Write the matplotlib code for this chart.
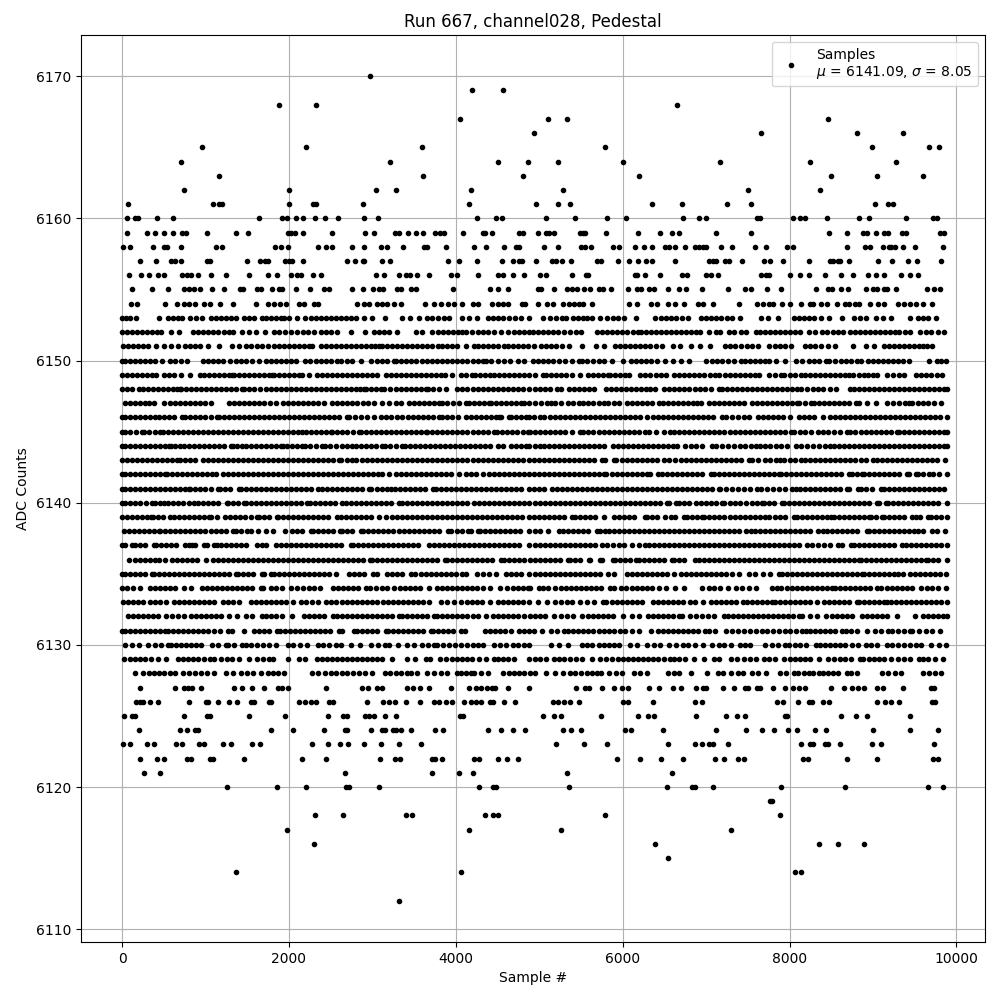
import matplotlib
matplotlib.use("Agg")
import matplotlib.pyplot as plt

x_6170 = [2966]
x_6169 = [4188, 4571]
x_6168 = [1876, 2319, 6645]
x_6167 = [4056, 5100, 5327, 8465]
x_6166 = [4932, 7662, 8812, 9363]
x_6165 = [954, 2200, 3589, 5782, 8992, 9674, 9786]
x_6164 = [703, 3206, 4511, 4866, 5219, 5998, 7171, 8249, 9279]
x_6163 = [1158, 3601, 4810, 6201, 8501, 9052, 9603]
x_6162 = [739, 1996, 3038, 3289, 4176, 5279, 7507, 8369]
x_6161 = [68, 1086, 1158, 1194, 1996, 2283, 2319, 2882, 4152, 4956, 5219, 5363, 6357, 6716, 7255, 7543, 9028, 9183, 9243]
x_6160 = [56, 152, 188, 415, 607, 1637, 1920, 1972, 2080, 2164, 2307, 2427, 2583, 2894, 3062, 4259, 4487, 4559, 5076, 5423, 5806, 6034, 6728, 6920, 7004, 7615, 7650, 8046, 8130, 8190, 8453, 8836, 8956, 9399, 9722, 9770]
x_6159 = [56, 295, 391, 499, 607, 715, 762, 1014, 1361, 1505, 1984, 2020, 2068, 2164, 2511, 2906, 3014, 3277, 3325, 3421, 3517, 3601, 3745, 3805, 3853, 4092, 4320, 4355, 4439, 4762, 4810, 4980, 5076, 5112, 5171, 5483, 5519, 5543, 5794, 6189, 6453, 6585, 6680, 7123, 7543, 8477, 8692, 8884, 8932, 9040, 9135, 9183, 9351, 9399, 9806, 9854]
x_6158 = [8, 92, 367, 499, 535, 703, 1122, 1194, 1828, 1900, 1984, 2343, 2439, 2511, 2750, 2894, 3098, 3170, 3373, 3613, 3649, 3888, 4212, 4356, 4583, 4727, 4763, 5052, 5219, 5495, 5543, 5615, 5878, 5950, 6153, 6261, 6357, 6501, 6549, 6621, 6752, 6872, 6920, 6968, 7004, 7183, 7315, 7591, 7722, 7974, 8046, 8692, 8908, 8968, 9124, 9195, 9219, 9267, 9363, 9507, 9842]
x_6157 = [212, 403, 583, 631, 703, 1014, 1050, 1493, 1649, 1709, 1745, 1948, 1996, 2032, 2164, 2691, 2786, 2882, 2894, 3110, 3206, 3912, 4044, 4248, 4559, 4691, 4763, 4798, 4956, 5147, 5195, 5267, 5375, 5698, 5734, 5938, 6070, 6189, 6285, 6357, 6632, 7040, 7088, 7123, 7231, 7279, 7435, 7698, 7770, 7926, 8237, 8489, 8525, 8585, 8609, 8716, 9064, 9231, 9423, 9531, 9818]
x_6156 = [80, 224, 327, 427, 499, 715, 774, 822, 906, 1062, 1241, 1517, 1745, 1852, 2020, 2092, 2140, 2283, 2379, 3038, 3134, 3325, 3397, 3445, 3529, 3673, 3948, 4020, 4271, 4511, 4571, 4691, 4822, 5004, 5076, 5387, 5555, 5579, 6153, 6177, 6273, 6453, 6716, 6776, 7004, 7064, 7147, 7662, 7722, 7758, 8000, 8130, 8237, 8429, 8621, 8764, 8944, 9040, 9135, 9339, 9447, 9543]
x_6155 = [116, 355, 547, 739, 798, 858, 930, 1074, 1218, 1409, 1445, 1613, 1661, 1792, 1876, 1912, 2080, 2248, 2415, 2475, 2750, 2882, 3002, 3074, 3122, 3301, 3349, 3457, 3517, 3972, 4415, 4511, 4631, 4980, 5016, 5171, 5327, 5387, 5447, 5531, 5603, 5710, 5758, 5854, 6058, 6177, 6225, 6321, 6381, 6537, 6680, 6764, 6956, 7267, 7471, 7543, 7734, 7902, 8321, 8465, 8513, 8621, 8704, 8920, 9004, 9052, 9135, 9171, 9279, 9651, 9734, 9806]
x_6154 = [104, 176, 511, 655, 739, 798, 870, 978, 1050, 1170, 1325, 1601, 1745, 1816, 1896, 1960, 2116, 2176, 2295, 2343, 2810, 2894, 2954, 3050, 3110, 3170, 3265, 3349, 3633, 3733, 3817, 3912, 3984, 4080, 4200, 4271, 4439, 4511, 4571, 4631, 4798, 4834, 4980, 5088, 5159, 5279, 5351, 5411, 5471, 5519, 5627, 6070, 6177, 6345, 6417, 6537, 6632, 6740, 6908, 6968, 7088, 7399, 7615, 7686, 7758, 7806, 7914, 8010, 8141, 8249, 8285, 8381, 8453, 8573, 8668, 8716, 8788, 8836, 8968, 9064, 9135, 9303, 9375, 9447, 9519, 9603, 9710]
x_6153 = [0, 50, 100, 170, 444, 548, 605, 665, 720, 820, 885, 960, 1060, 1120, 1180, 1240, 1300, 1364, 1460, 1520, 1580, 1680, 1720, 1790, 1850, 1900, 1940, 2000, 2100, 2188, 2260, 2320, 2380, 2440, 2500, 2560, 2620, 2680, 2740, 2800, 2900, 3000, 3152, 3356, 3452, 3560, 3660, 3720, 3790, 3860, 3920, 4080, 4160, 4256, 4380, 4440, 4510, 4570, 4640, 4710, 4780, 4880, 5044, 5132, 5200, 5272, 5324, 5404, 5460, 5520, 5572, 5632, 5724, 5812, 5880, 5940, 6012, 6156, 6384, 6460, 6520, 6580, 6640, 6710, 6780, 6940, 7000, 7060, 7120, 7180, 7250, 7312, 7404, 7660, 7740, 7860, 8052, 8110, 8170, 8230, 8292, 8380, 8472, 8628, 8772, 8840, 8916, 9036, 9120, 9212, 9444, 9540, 9600, 9660, 9752]
x_6152 = [0, 60, 120, 180, 240, 300, 360, 420, 468, 588, 680, 852, 910, 970, 1030, 1090, 1150, 1220, 1280, 1332, 1440, 1520, 1600, 1712, 1820, 1880, 1950, 2030, 2100, 2168, 2230, 2300, 2388, 2440, 2510, 2580, 2748, 2908, 3020, 3080, 3140, 3200, 3300, 3520, 3600, 3720, 3788, 3850, 3910, 3970, 4030, 4080, 4120, 4190, 4260, 4320, 4390, 4460, 4540, 4620, 4692, 4760, 4820, 4880, 4924, 4990, 5050, 5110, 5170, 5230, 5300, 5370, 5444, 5496, 5692, 5750, 5810, 5870, 5930, 5990, 6050, 6120, 6180, 6220, 6280, 6340, 6400, 6460, 6520, 6580, 6640, 6700, 6760, 6820, 6880, 6924, 7032, 7124, 7172, 7276, 7332, 7412, 7476, 7592, 7650, 7710, 7770, 7830, 7890, 7950, 8010, 8070, 8130, 8232, 8300, 8392, 8452, 8520, 8580, 8644, 8724, 8780, 8840, 8900, 8960, 9020, 9080, 9140, 9200, 9260, 9312, 9380, 9444, 9564, 9636, 9700, 9780, 9852]
x_6151 = [12, 70, 130, 190, 250, 308, 404, 508, 590, 668, 756, 812, 870, 930, 1028, 1164, 1320, 1400, 1480, 1548, 1620, 1680, 1748, 1820, 1880, 1940, 2000, 2060, 2120, 2180, 2240, 2280, 2380, 2440, 2500, 2560, 2620, 2680, 2740, 2800, 2860, 2920, 2980, 3030, 3080, 3120, 3180, 3240, 3300, 3360, 3420, 3480, 3540, 3600, 3660, 3720, 3788, 3840, 3900, 3960, 4020, 4120, 4212, 4270, 4330, 4390, 4450, 4510, 4580, 4620, 4680, 4740, 4800, 4860, 4940, 5020, 5080, 5140, 5200, 5272, 5352, 5512, 5684, 5772, 5912, 5970, 6030, 6090, 6150, 6210, 6270, 6330, 6400, 6472, 6604, 6684, 6820, 6932, 7044, 7232, 7290, 7350, 7420, 7492, 7552, 7620, 7752, 7820, 7880, 7940, 8020, 8180, 8240, 8300, 8380, 8460, 8544, 8760, 8916, 9012, 9132, 9190, 9250, 9310, 9370, 9430, 9490, 9550, 9600, 9652, 9712]
x_6150 = [-20, 40, 100, 160, 220, 280, 340, 400, 480, 572, 640, 710, 780, 972, 1030, 1090, 1150, 1210, 1290, 1360, 1420, 1480, 1560, 1640, 1720, 1780, 1840, 1900, 1960, 2020, 2080, 2188, 2252, 2320, 2380, 2440, 2510, 2580, 2620, 2690, 2760, 2868, 2980, 3060, 3120, 3180, 3260, 3280, 3340, 3400, 3460, 3520, 3600, 3660, 3720, 3780, 3840, 3900, 3960, 4020, 4080, 4140, 4200, 4260, 4320, 4360, 4420, 4500, 4580, 4652, 4740, 4820, 4924, 4980, 5040, 5100, 5170, 5232, 5312, 5390, 5472, 5512, 5570, 5640, 5712, 5772, 5872, 6004, 6100, 6160, 6220, 6280, 6340, 6412, 6510, 6604, 6700, 6792, 7004, 7070, 7132, 7192, 7260, 7330, 7412, 7460, 7520, 7580, 7640, 7700, 7748, 7836, 7948, 8072, 8150, 8232, 8292, 8352, 8432, 8472, 8540, 8612, 8672, 8740, 8812, 8860, 8940, 9000, 9060, 9120, 9180, 9240, 9300, 9364, 9432, 9672, 9772, 9820, 9872]
x_6149 = [0, 60, 120, 180, 240, 300, 360, 412, 500, 560, 620, 712, 820, 932, 980, 1040, 1100, 1160, 1220, 1280, 1320, 1340, 1400, 1460, 1520, 1580, 1640, 1700, 1760, 1800, 1820, 1880, 1940, 2000, 2060, 2120, 2160, 2240, 2340, 2400, 2460, 2520, 2580, 2640, 2700, 2760, 2820, 2880, 2940, 3000, 3060, 3160, 3220, 3280, 3340, 3400, 3460, 3520, 3580, 3640, 3700, 3760, 3820, 3868, 3960, 4060, 4120, 4188, 4228, 4290, 4350, 4410, 4460, 4520, 4580, 4640, 4700, 4760, 4820, 4880, 4952, 5044, 5084, 5140, 5200, 5260, 5324, 5392, 5484, 5580, 5640, 5700, 5760, 5820, 5852, 5910, 5970, 6032, 6076, 6204, 6270, 6330, 6400, 6460, 6516, 6612, 6670, 6732, 6792, 6850, 6910, 6980, 7052, 7112, 7152, 7224, 7284, 7340, 7400, 7460, 7520, 7580, 7632, 7752, 7820, 7892, 7932, 8000, 8070, 8132, 8180, 8240, 8300, 8360, 8420, 8480, 8540, 8600, 8660, 8716, 8764, 8830, 8892, 8940, 9000, 9052, 9172, 9244, 9310, 9372, 9516, 9580, 9640, 9700, 9770, 9832]
x_6148 = [0, 60, 120, 200, 248, 308, 370, 430, 490, 550, 610, 660, 700, 712, 770, 830, 890, 950, 1010, 1070, 1130, 1190, 1250, 1310, 1370, 1440, 1460, 1520, 1580, 1650, 1720, 1780, 1840, 1900, 1960, 2020, 2080, 2140, 2200, 2260, 2320, 2380, 2440, 2500, 2560, 2620, 2680, 2740, 2800, 2850, 2900, 2920, 2980, 3040, 3100, 3140, 3210, 3280, 3340, 3400, 3460, 3520, 3580, 3640, 3668, 3730, 3800, 3880, 4020, 4080, 4140, 4200, 4260, 4320, 4380, 4440, 4500, 4560, 4620, 4680, 4740, 4800, 4880, 4952, 5010, 5070, 5130, 5212, 5260, 5352, 5420, 5480, 5540, 5600, 5652, 5796, 5860, 5920, 5980, 6040, 6100, 6160, 6220, 6280, 6332, 6388, 6492, 6550, 6610, 6670, 6730, 6800, 6872, 6924, 6990, 7060, 7152, 7192, 7250, 7310, 7370, 7430, 7490, 7550, 7610, 7670, 7730, 7790, 7850, 7910, 7970, 8030, 8090, 8140, 8212, 8280, 8340, 8400, 8480, 8552, 8720, 8772, 8830, 8890, 8950, 9010, 9070, 9130, 9190, 9250, 9310, 9370, 9430, 9490, 9550, 9610, 9670, 9730, 9790, 9850, 9884]
x_6147 = [40, 100, 160, 220, 270, 320, 380, 508, 572, 630, 690, 750, 810, 870, 930, 1000, 1068, 1280, 1340, 1400, 1460, 1520, 1580, 1640, 1700, 1770, 1840, 1928, 1988, 2050, 2110, 2170, 2230, 2290, 2350, 2420, 2520, 2580, 2640, 2700, 2760, 2820, 2890, 2950, 3020, 3120, 3200, 3280, 3340, 3440, 3500, 3560, 3620, 3680, 3740, 3800, 3840, 3900, 3970, 4040, 4120, 4160, 4220, 4280, 4340, 4400, 4420, 4480, 4540, 4600, 4660, 4720, 4780, 4820, 4880, 4950, 5020, 5092, 5140, 5192, 5260, 5340, 5404, 5472, 5530, 5590, 5650, 5710, 5780, 5824, 5890, 5950, 6052, 6112, 6170, 6230, 6290, 6350, 6432, 6484, 6540, 6600, 6660, 6720, 6780, 6840, 6892, 6940, 7032, 7090, 7150, 7210, 7270, 7330, 7390, 7450, 7552, 7612, 7670, 7730, 7790, 7850, 7910, 7970, 8030, 8092, 8112, 8180, 8252, 8292, 8350, 8410, 8470, 8530, 8590, 8650, 8710, 8792, 8832, 8932, 9032, 9172, 9240, 9310, 9380, 9432, 9472, 9540, 9600, 9660, 9730, 9812]
x_6146 = [-20, 40, 100, 160, 220, 280, 340, 400, 440, 500, 560, 620, 720, 760, 820, 880, 940, 1000, 1060, 1140, 1160, 1220, 1280, 1340, 1400, 1460, 1520, 1580, 1640, 1700, 1760, 1820, 1880, 1940, 2000, 2060, 2120, 2180, 2240, 2300, 2360, 2420, 2480, 2540, 2600, 2700, 2720, 2790, 2860, 2940, 3020, 3100, 3160, 3220, 3300, 3360, 3428, 3490, 3550, 3610, 3670, 3730, 3800, 3840, 3900, 3960, 4030, 4120, 4180, 4240, 4300, 4360, 4420, 4480, 4520, 4540, 4640, 4660, 4720, 4780, 4840, 4880, 4940, 5004, 5052, 5132, 5192, 5250, 5310, 5370, 5430, 5490, 5550, 5610, 5670, 5730, 5790, 5850, 5910, 5970, 6030, 6090, 6150, 6210, 6292, 6364, 6420, 6480, 6540, 6600, 6660, 6720, 6780, 6840, 6900, 6960, 7020, 7080, 7192, 7244, 7310, 7380, 7450, 7512, 7620, 7680, 7740, 7800, 7860, 7920, 8000, 8112, 8172, 8230, 8292, 8404, 8484, 8540, 8600, 8660, 8720, 8780, 8840, 8900, 8960, 9020, 9080, 9140, 9200, 9260, 9320, 9380, 9440, 9500, 9560, 9620, 9680, 9740, 9800, 9884]
x_6145 = [-20, 40, 100, 170, 240, 260, 320, 390, 460, 488, 550, 610, 670, 730, 790, 850, 910, 970, 1030, 1090, 1150, 1210, 1270, 1330, 1390, 1450, 1510, 1570, 1630, 1690, 1750, 1810, 1870, 1930, 1990, 2050, 2110, 2160, 2200, 2260, 2320, 2380, 2440, 2500, 2520, 2580, 2640, 2700, 2770, 2840, 2860, 2920, 2980, 3040, 3100, 3160, 3220, 3280, 3340, 3400, 3460, 3520, 3580, 3640, 3660, 3720, 3780, 3840, 3900, 3960, 4020, 4080, 4140, 4200, 4260, 4320, 4380, 4460, 4492, 4550, 4610, 4670, 4730, 4800, 4860, 4892, 4950, 5010, 5070, 5130, 5190, 5252, 5312, 5392, 5484, 5524, 5590, 5650, 5710, 5770, 5830, 5890, 5950, 6010, 6070, 6130, 6190, 6272, 6312, 6400, 6500, 6564, 6620, 6680, 6740, 6800, 6860, 6920, 6980, 7040, 7100, 7160, 7220, 7280, 7340, 7400, 7460, 7520, 7580, 7640, 7700, 7760, 7820, 7880, 7940, 8020, 8052, 8120, 8190, 8260, 8340, 8396, 8460, 8530, 8600, 8684, 8724, 8790, 8850, 8910, 8970, 9030, 9090, 9150, 9210, 9284, 9312, 9370, 9430, 9490, 9550, 9610, 9670, 9730, 9790, 9850, 9884]
x_6144 = [-20, 40, 100, 160, 220, 280, 340, 400, 460, 520, 560, 588, 640, 700, 740, 800, 860, 920, 980, 1040, 1100, 1160, 1220, 1300, 1332, 1380, 1440, 1480, 1540, 1600, 1660, 1720, 1780, 1840, 1900, 1924, 1980, 2040, 2100, 2160, 2188, 2250, 2320, 2400, 2428, 2490, 2560, 2630, 2700, 2760, 2800, 2860, 2920, 2980, 3040, 3120, 3148, 3210, 3280, 3360, 3388, 3450, 3510, 3570, 3630, 3690, 3750, 3810, 3870, 3930, 3990, 4050, 4110, 4170, 4230, 4290, 4350, 4410, 4500, 4560, 4660, 4720, 4780, 4840, 4880, 4952, 5004, 5060, 5120, 5180, 5240, 5300, 5360, 5420, 5480, 5540, 5600, 5660, 5720, 5780, 5884, 5940, 6000, 6060, 6120, 6180, 6240, 6300, 6360, 6420, 6480, 6540, 6600, 6652, 6752, 6820, 6880, 6950, 7072, 7124, 7190, 7260, 7330, 7400, 7470, 7540, 7600, 7644, 7700, 7770, 7840, 7900, 7964, 8072, 8140, 8210, 8280, 8350, 8420, 8484, 8532, 8590, 8650, 8710, 8770, 8830, 8890, 8950, 9010, 9070, 9130, 9190, 9250, 9310, 9370, 9430, 9490, 9550, 9610, 9670, 9730, 9790, 9850, 9884]
x_6143 = [0, 60, 120, 180, 240, 300, 360, 420, 480, 540, 600, 660, 700, 760, 820, 880, 972, 1030, 1090, 1150, 1210, 1270, 1330, 1390, 1450, 1510, 1570, 1630, 1690, 1750, 1810, 1870, 1930, 1990, 2050, 2110, 2170, 2230, 2290, 2350, 2410, 2470, 2530, 2600, 2628, 2690, 2750, 2800, 2880, 2940, 3000, 3060, 3120, 3180, 3240, 3300, 3360, 3420, 3480, 3540, 3600, 3660, 3720, 3780, 3840, 3900, 3960, 4020, 4080, 4140, 4200, 4260, 4320, 4380, 4440, 4500, 4560, 4620, 4680, 4740, 4800, 4880, 4940, 5000, 5060, 5120, 5180, 5240, 5300, 5360, 5420, 5480, 5540, 5600, 5660, 5752, 5792, 5892, 5924, 5990, 6050, 6110, 6170, 6230, 6290, 6350, 6410, 6500, 6552, 6632, 6700, 6760, 6820, 6880, 6940, 7000, 7060, 7120, 7180, 7240, 7300, 7360, 7420, 7512, 7552, 7620, 7700, 7770, 7832, 7884, 7932, 8000, 8070, 8140, 8188, 8250, 8310, 8370, 8430, 8490, 8550, 8610, 8670, 8730, 8790, 8850, 8910, 9004, 9052, 9110, 9170, 9230, 9290, 9350, 9410, 9470, 9530, 9590, 9650, 9710, 9770, 9860]
x_6142 = [-20, 40, 100, 160, 220, 280, 340, 400, 460, 520, 540, 600, 660, 720, 780, 840, 900, 960, 1020, 1080, 1120, 1212, 1270, 1330, 1390, 1450, 1510, 1570, 1630, 1690, 1750, 1810, 1870, 1930, 1990, 2050, 2110, 2170, 2230, 2290, 2350, 2410, 2470, 2530, 2590, 2650, 2710, 2770, 2830, 2890, 2950, 3010, 3070, 3120, 3200, 3280, 3340, 3400, 3460, 3520, 3580, 3640, 3700, 3760, 3820, 3880, 3940, 4040, 4120, 4180, 4240, 4320, 4400, 4460, 4520, 4580, 4640, 4700, 4760, 4820, 4880, 4940, 5000, 5060, 5120, 5180, 5240, 5300, 5360, 5420, 5480, 5540, 5600, 5660, 5720, 5780, 5804, 5870, 5930, 5990, 6050, 6110, 6170, 6230, 6292, 6332, 6420, 6472, 6530, 6590, 6650, 6710, 6770, 6830, 6890, 6950, 7060, 7092, 7150, 7210, 7270, 7330, 7390, 7450, 7510, 7570, 7630, 7690, 7750, 7810, 7872, 7900, 7960, 8020, 8080, 8140, 8200, 8260, 8320, 8380, 8440, 8500, 8560, 8620, 8716, 8752, 8810, 8872, 8892, 8950, 9010, 9070, 9130, 9190, 9250, 9310, 9404, 9432, 9512, 9540, 9600, 9672, 9724, 9790, 9892]
x_6141 = [-28, 30, 90, 150, 210, 270, 330, 390, 450, 510, 570, 630, 690, 750, 800, 820, 880, 940, 1000, 1060, 1148, 1172, 1230, 1290, 1400, 1428, 1490, 1550, 1610, 1670, 1730, 1790, 1850, 1910, 1970, 2030, 2090, 2150, 2210, 2270, 2348, 2400, 2460, 2520, 2580, 2640, 2700, 2760, 2820, 2880, 2960, 2988, 3050, 3110, 3170, 3220, 3268, 3330, 3390, 3450, 3510, 3570, 3630, 3732, 3760, 3820, 3880, 3940, 4000, 4060, 4120, 4180, 4240, 4300, 4360, 4420, 4480, 4540, 4600, 4660, 4720, 4780, 4880, 4940, 5000, 5060, 5152, 5212, 5270, 5330, 5390, 5450, 5510, 5570, 5630, 5690, 5750, 5810, 5870, 5930, 5990, 6050, 6110, 6170, 6230, 6290, 6350, 6410, 6470, 6530, 6590, 6650, 6710, 6770, 6830, 6890, 6950, 7010, 7070, 7152, 7172, 7240, 7310, 7380, 7450, 7520, 7612, 7660, 7730, 7800, 7870, 7940, 8032, 8072, 8130, 8190, 8250, 8310, 8370, 8430, 8490, 8550, 8610, 8692, 8712, 8820, 8852, 8920, 8990, 9100, 9132, 9190, 9250, 9310, 9370, 9430, 9490, 9550, 9610, 9670, 9730, 9790, 9852]
x_6140 = [-20, 40, 100, 160, 220, 290, 360, 400, 450, 500, 548, 610, 670, 730, 800, 860, 908, 970, 1030, 1090, 1150, 1252, 1268, 1330, 1390, 1460, 1480, 1540, 1600, 1660, 1720, 1780, 1840, 1900, 1960, 2020, 2080, 2150, 2220, 2252, 2310, 2370, 2430, 2490, 2550, 2640, 2680, 2740, 2800, 2860, 2920, 2980, 3040, 3100, 3160, 3220, 3320, 3360, 3420, 3480, 3540, 3600, 3660, 3720, 3780, 3840, 3900, 3960, 4020, 4080, 4140, 4220, 4280, 4340, 4400, 4460, 4520, 4580, 4640, 4700, 4760, 4820, 4880, 4950, 5010, 5070, 5130, 5190, 5250, 5310, 5370, 5430, 5490, 5550, 5610, 5670, 5730, 5790, 5850, 5910, 5970, 6030, 6090, 6150, 6210, 6270, 6330, 6390, 6450, 6532, 6552, 6644, 6672, 6730, 6800, 6880, 6940, 7000, 7060, 7120, 7192, 7220, 7280, 7340, 7400, 7472, 7552, 7610, 7672, 7692, 7750, 7810, 7912, 7932, 7990, 8050, 8110, 8170, 8230, 8290, 8350, 8410, 8470, 8530, 8590, 8650, 8710, 8770, 8830, 8890, 8950, 9052, 9072, 9152, 9180, 9240, 9300, 9360, 9420, 9480, 9540, 9600, 9660, 9720, 9780, 9884]
x_6139 = [0, 60, 120, 180, 240, 300, 348, 372, 430, 490, 580, 620, 680, 740, 800, 860, 920, 980, 1040, 1068, 1140, 1228, 1292, 1350, 1410, 1470, 1540, 1620, 1640, 1700, 1760, 1860, 1868, 1930, 1990, 2050, 2110, 2170, 2230, 2290, 2350, 2410, 2470, 2580, 2620, 2680, 2740, 2800, 2860, 2920, 2980, 3080, 3168, 3230, 3290, 3350, 3410, 3470, 3530, 3590, 3650, 3710, 3770, 3830, 3890, 3950, 4010, 4070, 4130, 4190, 4250, 4310, 4370, 4430, 4490, 4550, 4610, 4670, 4730, 4790, 4880, 4940, 5000, 5060, 5120, 5180, 5240, 5300, 5392, 5432, 5490, 5550, 5610, 5670, 5780, 5892, 5952, 6010, 6070, 6130, 6272, 6292, 6350, 6410, 6512, 6580, 6632, 6740, 6772, 6830, 6890, 6952, 6980, 7040, 7100, 7160, 7220, 7280, 7340, 7400, 7460, 7520, 7580, 7640, 7700, 7752, 7820, 7880, 7940, 8052, 8092, 8150, 8210, 8270, 8330, 8390, 8450, 8500, 8532, 8590, 8650, 8710, 8770, 8830, 8890, 8952, 8980, 9040, 9112, 9132, 9190, 9250, 9310, 9370, 9472, 9520, 9564, 9660, 9692, 9750, 9810, 9892]
x_6138 = [20, 80, 140, 200, 260, 320, 380, 440, 460, 520, 580, 640, 700, 760, 820, 880, 940, 1000, 1060, 1120, 1180, 1240, 1332, 1360, 1430, 1500, 1540, 1630, 1720, 1804, 1948, 2040, 2100, 2160, 2268, 2292, 2350, 2410, 2470, 2530, 2612, 2640, 2700, 2760, 2860, 2892, 2950, 3010, 3070, 3130, 3190, 3250, 3320, 3380, 3440, 3500, 3560, 3620, 3680, 3740, 3800, 3908, 3948, 4010, 4070, 4148, 4180, 4260, 4292, 4350, 4410, 4470, 4530, 4590, 4650, 4710, 4770, 4880, 4950, 5010, 5100, 5232, 5290, 5350, 5410, 5470, 5530, 5590, 5692, 5732, 5792, 5832, 5890, 5950, 6010, 6070, 6130, 6190, 6250, 6310, 6370, 6430, 6490, 6550, 6610, 6670, 6730, 6790, 6850, 6910, 6970, 7030, 7090, 7150, 7210, 7270, 7330, 7390, 7472, 7532, 7590, 7650, 7710, 7770, 7830, 7890, 7950, 8010, 8070, 8130, 8190, 8250, 8340, 8404, 8452, 8510, 8570, 8630, 8690, 8750, 8810, 8932, 8952, 9010, 9070, 9130, 9190, 9250, 9310, 9370, 9430, 9492, 9540, 9600, 9712, 9772, 9860]
x_6137 = [-28, 30, 120, 160, 220, 280, 388, 412, 470, 530, 590, 650, 760, 800, 840, 880, 988, 1020, 1100, 1132, 1190, 1250, 1310, 1370, 1430, 1490, 1620, 1680, 1720, 1840, 1900, 1960, 2020, 2080, 2140, 2200, 2260, 2320, 2380, 2440, 2500, 2560, 2620, 2740, 2772, 2830, 2890, 2950, 3010, 3070, 3130, 3190, 3250, 3310, 3370, 3430, 3490, 3550, 3680, 3740, 3800, 3860, 3920, 3980, 4040, 4100, 4160, 4220, 4280, 4340, 4400, 4460, 4520, 4580, 4640, 4700, 4760, 4880, 4950, 5010, 5070, 5130, 5190, 5250, 5310, 5370, 5430, 5490, 5550, 5610, 5670, 5752, 5812, 5880, 5952, 6012, 6112, 6192, 6272, 6312, 6372, 6430, 6490, 6550, 6610, 6670, 6730, 6790, 6850, 6910, 6970, 7030, 7090, 7150, 7210, 7270, 7330, 7390, 7450, 7510, 7570, 7630, 7690, 7750, 7810, 7870, 7930, 7990, 8050, 8110, 8212, 8272, 8340, 8410, 8480, 8580, 8632, 8740, 8772, 8830, 8890, 8950, 9010, 9070, 9130, 9190, 9250, 9352, 9392, 9450, 9510, 9570, 9630, 9690, 9750, 9810, 9892]
x_6136 = [80, 160, 220, 280, 340, 400, 440, 520, 600, 660, 720, 780, 840, 900, 1012, 1092, 1150, 1210, 1270, 1330, 1390, 1450, 1510, 1570, 1630, 1690, 1750, 1810, 1870, 1930, 1990, 2050, 2110, 2170, 2230, 2290, 2350, 2410, 2470, 2530, 2590, 2650, 2710, 2770, 2830, 2890, 2972, 3000, 3060, 3120, 3180, 3240, 3300, 3360, 3420, 3480, 3540, 3600, 3660, 3720, 3780, 3868, 3892, 3950, 4010, 4070, 4130, 4190, 4250, 4310, 4370, 4430, 4540, 4580, 4640, 4700, 4760, 4820, 4892, 4950, 5010, 5070, 5130, 5190, 5250, 5340, 5364, 5430, 5490, 5592, 5612, 5724, 5752, 5884, 5912, 5970, 6030, 6090, 6164, 6192, 6250, 6310, 6370, 6430, 6490, 6592, 6612, 6670, 6730, 6872, 6912, 6970, 7030, 7090, 7150, 7210, 7270, 7330, 7390, 7450, 7510, 7570, 7630, 7690, 7750, 7810, 7870, 7930, 7990, 8050, 8110, 8170, 8230, 8290, 8350, 8410, 8470, 8530, 8590, 8650, 8710, 8770, 8832, 8852, 8910, 8970, 9030, 9090, 9150, 9210, 9270, 9330, 9390, 9450, 9510, 9570, 9632, 9660, 9720, 9780, 9884]
x_6135 = [-28, 30, 90, 150, 210, 270, 360, 380, 440, 500, 560, 620, 680, 740, 800, 860, 920, 980, 1040, 1100, 1160, 1220, 1280, 1360, 1388, 1450, 1510, 1570, 1672, 1700, 1788, 1820, 1880, 1940, 2000, 2060, 2120, 2180, 2240, 2300, 2360, 2420, 2480, 2560, 2720, 2780, 2840, 2900, 3008, 3060, 3172, 3240, 3300, 3360, 3460, 3512, 3580, 3640, 3700, 3760, 3820, 3880, 3940, 4000, 4080, 4120, 4252, 4320, 4400, 4480, 4600, 4660, 4720, 4780, 4880, 4950, 5010, 5070, 5130, 5190, 5250, 5310, 5370, 5430, 5490, 5550, 5610, 5670, 5730, 5820, 5900, 6052, 6110, 6170, 6230, 6290, 6350, 6410, 6470, 6530, 6620, 6700, 6760, 6820, 6880, 6940, 7000, 7060, 7120, 7180, 7240, 7312, 7392, 7512, 7580, 7684, 7770, 7872, 7912, 7970, 8030, 8090, 8150, 8210, 8270, 8330, 8390, 8450, 8510, 8570, 8630, 8690, 8750, 8810, 8872, 8892, 8950, 9010, 9070, 9130, 9190, 9252, 9300, 9364, 9444, 9500, 9560, 9620, 9680, 9740, 9800, 9872]
x_6134 = [-28, 60, 132, 212, 332, 390, 450, 510, 570, 640, 740, 828, 960, 1020, 1080, 1140, 1200, 1260, 1320, 1380, 1440, 1500, 1560, 1660, 1692, 1780, 1848, 1920, 2020, 2100, 2170, 2240, 2300, 2372, 2528, 2590, 2650, 2710, 2770, 2830, 2920, 2972, 3040, 3110, 3180, 3260, 3332, 3390, 3450, 3510, 3570, 3680, 3772, 3830, 3890, 3950, 4010, 4070, 4130, 4190, 4250, 4320, 4412, 4532, 4612, 4680, 4740, 4800, 4860, 4892, 4992, 5044, 5100, 5192, 5260, 5320, 5380, 5440, 5500, 5560, 5620, 5680, 5740, 5844, 5892, 5980, 6044, 6110, 6170, 6230, 6290, 6352, 6432, 6520, 6632, 6732, 6952, 7032, 7092, 7164, 7260, 7360, 7432, 7512, 7600, 7792, 7852, 7900, 7972, 8030, 8090, 8150, 8210, 8270, 8330, 8390, 8450, 8512, 8540, 8600, 8660, 8720, 8780, 8840, 8900, 8960, 9052, 9092, 9172, 9230, 9290, 9350, 9410, 9470, 9580, 9644, 9710, 9780, 9872]
x_6133 = [12, 70, 130, 190, 250, 340, 400, 460, 530, 620, 680, 740, 800, 860, 920, 980, 1040, 1100, 1212, 1270, 1330, 1400, 1540, 1600, 1660, 1720, 1780, 1840, 1900, 1960, 2052, 2140, 2210, 2280, 2350, 2440, 2508, 2570, 2630, 2690, 2750, 2810, 2870, 2930, 2990, 3060, 3132, 3188, 3250, 3310, 3370, 3430, 3490, 3550, 3610, 3680, 3828, 3900, 3980, 4068, 4130, 4190, 4250, 4310, 4412, 4500, 4560, 4620, 4680, 4740, 4800, 4880, 4980, 5092, 5192, 5260, 5330, 5392, 5492, 5572, 5660, 5764, 5804, 5870, 5930, 5990, 6050, 6110, 6170, 6232, 6364, 6420, 6480, 6540, 6600, 6660, 6720, 6812, 6872, 6964, 7060, 7120, 7180, 7240, 7300, 7360, 7444, 7484, 7550, 7610, 7670, 7730, 7792, 7820, 7880, 7940, 8000, 8060, 8120, 8180, 8240, 8332, 8412, 8472, 8530, 8590, 8650, 8710, 8812, 8832, 8890, 8950, 9010, 9070, 9132, 9164, 9220, 9280, 9340, 9400, 9460, 9520, 9580, 9640, 9700, 9760, 9820, 9892]
x_6132 = [68, 130, 190, 250, 310, 370, 430, 532, 600, 670, 740, 828, 890, 950, 1010, 1070, 1130, 1190, 1280, 1380, 1488, 1560, 1680, 1720, 1790, 1850, 1912, 2036, 2180, 2240, 2300, 2360, 2420, 2532, 2580, 2640, 2700, 2760, 2820, 2880, 2940, 3000, 3060, 3120, 3180, 3240, 3320, 3360, 3420, 3480, 3540, 3600, 3660, 3740, 3780, 3840, 3900, 3960, 4020, 4080, 4140, 4200, 4260, 4360, 4440, 4500, 4560, 4620, 4680, 4748, 4820, 4892, 4950, 5012, 5072, 5172, 5260, 5330, 5400, 5512, 5580, 5640, 5700, 5760, 5820, 5880, 6004, 6112, 6192, 6300, 6360, 6420, 6480, 6540, 6600, 6672, 6712, 6804, 6880, 6950, 7020, 7090, 7212, 7260, 7320, 7380, 7440, 7500, 7560, 7620, 7680, 7740, 7800, 7860, 7920, 7980, 8040, 8112, 8152, 8240, 8332, 8432, 8512, 8570, 8630, 8690, 8752, 8872, 8930, 8990, 9050, 9110, 9170, 9284, 9500, 9604, 9660, 9720, 9780, 9840, 9892]
x_6131 = [-20, 40, 100, 160, 220, 280, 340, 400, 460, 520, 548, 610, 670, 730, 790, 850, 910, 970, 1030, 1100, 1172, 1268, 1320, 1460, 1580, 1640, 1700, 1760, 1860, 1892, 1950, 2010, 2070, 2130, 2190, 2250, 2310, 2370, 2430, 2490, 2600, 2640, 2780, 2820, 2880, 2940, 3000, 3060, 3160, 3188, 3250, 3310, 3370, 3430, 3490, 3550, 3610, 3700, 3732, 3790, 3850, 3910, 3970, 4060, 4112, 4348, 4410, 4470, 4530, 4590, 4660, 4760, 4820, 4880, 4940, 5032, 5140, 5212, 5292, 5350, 5410, 5470, 5530, 5590, 5650, 5710, 5770, 5830, 5890, 5964, 6032, 6110, 6192, 6340, 6420, 6480, 6540, 6600, 6660, 6720, 6780, 6840, 6900, 6992, 7032, 7110, 7244, 7312, 7380, 7450, 7520, 7600, 7672, 7732, 7800, 7870, 7940, 8010, 8080, 8152, 8192, 8250, 8310, 8370, 8430, 8490, 8550, 8632, 8672, 8740, 8810, 8924, 9020, 9100, 9180, 9232, 9300, 9370, 9444, 9472, 9552, 9632, 9712, 9804]
x_6130 = [40, 120, 200, 316, 400, 470, 548, 588, 650, 710, 770, 828, 888, 952, 1080, 1150, 1240, 1268, 1340, 1440, 1480, 1550, 1620, 1690, 1760, 1840, 1988, 2050, 2130, 2212, 2348, 2412, 2480, 2560, 2620, 2748, 2852, 2988, 3070, 3148, 3200, 3308, 3420, 3500, 3600, 3670, 3740, 3780, 3850, 3920, 3990, 4060, 4130, 4200, 4260, 4320, 4452, 4530, 4600, 4684, 4750, 4820, 4880, 5140, 5232, 5340, 5512, 5570, 5632, 5712, 5770, 5830, 5890, 5952, 6092, 6172, 6292, 6370, 6452, 6552, 6640, 6724, 6780, 6870, 6964, 7072, 7150, 7220, 7296, 7404, 7460, 7524, 7704, 7792, 7860, 7940, 7992, 8060, 8130, 8200, 8312, 8364, 8430, 8490, 8550, 8610, 8670, 8752, 8820, 8912, 8980, 9052, 9164, 9230, 9300, 9370, 9440, 9510, 9580, 9692, 9792, 9872]
x_6129 = [20, 90, 150, 220, 280, 348, 430, 532, 668, 730, 790, 850, 910, 980, 1052, 1100, 1188, 1252, 1320, 1400, 1520, 1620, 1690, 1760, 1812, 1988, 2120, 2188, 2332, 2400, 2460, 2520, 2580, 2640, 2700, 2760, 2820, 2880, 2940, 3000, 3060, 3120, 3240, 3420, 3512, 3640, 3692, 3812, 3880, 3950, 4010, 4070, 4132, 4196, 4280, 4360, 4452, 4500, 4570, 4630, 4700, 4880, 4950, 5012, 5084, 5172, 5232, 5300, 5370, 5440, 5510, 5632, 5724, 5800, 5872, 5940, 6000, 6060, 6120, 6180, 6240, 6300, 6360, 6420, 6490, 6564, 6612, 6680, 6750, 6860, 6980, 7092, 7152, 7292, 7364, 7452, 7524, 7600, 7692, 7752, 7824, 7932, 8000, 8060, 8120, 8180, 8240, 8352, 8460, 8530, 8600, 8670, 8740, 8844, 8884, 8950, 9010, 9072, 9132, 9212, 9300, 9372, 9440, 9552, 9604, 9660, 9744, 9840]
x_6128 = [160, 252, 320, 380, 440, 508, 570, 640, 732, 800, 870, 948, 1020, 1100, 1240, 1328, 1420, 1492, 1568, 1660, 1748, 1810, 1870, 1940, 2280, 2350, 2430, 2508, 2560, 2640, 2700, 2770, 2840, 2910, 3000, 3148, 3212, 3280, 3340, 3412, 3468, 3540, 3660, 3740, 3828, 3900, 4020, 4060, 4120, 4180, 4220, 4300, 4388, 4568, 4640, 4700, 4760, 4820, 4892, 4952, 5076, 5184, 5280, 5364, 5432, 5500, 5570, 5630, 5692, 5740, 5830, 5924, 5992, 6132, 6204, 6288, 6540, 6620, 6672, 6816, 7008, 7140, 7204, 7292, 7380, 7440, 7548, 7620, 7716, 7884, 7956, 8052, 8100, 8170, 8232, 8284, 8352, 8400, 8460, 8524, 8580, 8684, 8740, 8804, 9112, 9180, 9260, 9340, 9600, 9672, 9744, 9816]
x_6127 = [212, 631, 739, 786, 834, 942, 1337, 1433, 1553, 1697, 1864, 1916, 1992, 2439, 2870, 2942, 3050, 3110, 3409, 3481, 3565, 3673, 3944, 4152, 4236, 4307, 4379, 4439, 4475, 4631, 4882, 5443, 5543, 5591, 5746, 5890, 5986, 6058, 6321, 6441, 6608, 6704, 6884, 6968, 7004, 7207, 7339, 7471, 7507, 7615, 7650, 7806, 7950, 8046, 8117, 8189, 8501, 8656, 8752, 8824, 8896, 9052, 9124, 9363, 9698, 9734]
x_6126 = [164, 212, 248, 331, 427, 798, 1002, 1026, 1146, 1277, 1373, 1541, 1577, 1757, 1780, 2116, 2188, 2260, 2319, 2475, 2523, 2934, 3122, 3205, 3277, 3397, 3565, 3733, 3793, 3888, 3960, 4104, 4176, 4236, 4307, 4415, 4451, 4583, 4714, 5159, 5219, 5291, 5363, 5471, 5998, 6058, 6369, 6872, 6956, 7854, 7926, 8105, 8237, 8273, 8405, 8477, 9052, 9147, 9219, 9315, 9710, 9746]
x_6125 = [20, 116, 152, 739, 1014, 1050, 1517, 1948, 2463, 2643, 2691, 2906, 2954, 3014, 3146, 3289, 4056, 4092, 5040, 5171, 5255, 5734, 6189, 6309, 6381, 6884, 7243, 7375, 7471, 7950, 7974, 8621, 8800, 8932, 9447]
x_6124 = [200, 691, 774, 870, 906, 1780, 2044, 2415, 2667, 2691, 2978, 3110, 3146, 3253, 3289, 3345, 3457, 3745, 3852, 4391, 4547, 4691, 4834, 5279, 5375, 5495, 6022, 6094, 6477, 7123, 7483, 7674, 7818, 7986, 8093, 8309, 8441, 9004, 9447, 9782]
x_6123 = [8, 92, 295, 379, 643, 715, 918, 978, 1206, 1301, 1553, 1649, 2271, 2463, 2607, 2703, 2894, 3098, 3325, 3577, 5195, 5531, 5806, 6537, 6872, 6956, 7040, 7088, 7267, 8141, 8249, 8285, 8429, 8465, 8609, 8992, 9100, 9734]
x_6122 = [212, 415, 499, 774, 822, 1050, 1086, 1457, 2152, 2439, 3086, 3277, 3337, 3709, 3745, 3840, 4212, 4283, 4511, 4619, 4750, 5926, 6213, 6465, 6728, 7112, 7219, 7387, 7459, 8165, 8225, 8692, 9052, 9722, 9782]
x_6121 = [259, 451, 2667, 3709, 4044, 4200, 5327, 6585]
x_6120 = [1253, 1852, 2200, 2679, 2715, 3074, 4283, 4451, 4487, 5351, 6525, 6836, 6872, 7088, 7902, 8668, 9662, 9842]
x_6119 = [7770, 7794]
x_6118 = [2307, 2643, 3397, 3469, 4355, 4451, 4511, 5782, 7890]
x_6117 = [1972, 4152, 5255, 7303]
x_6116 = [2295, 6393, 8357, 8585, 8896]
x_6115 = [6537]
x_6114 = [1361, 4068, 8070, 8141]
x_6112 = [3325]

levels = [6170, 6169, 6168, 6167, 6166, 6165, 6164, 6163, 6162, 6161, 6160, 6159, 6158, 6157, 6156, 6155, 6154, 6153, 6152, 6151, 6150, 6149, 6148, 6147, 6146, 6145, 6144, 6143, 6142, 6141, 6140, 6139, 6138, 6137, 6136, 6135, 6134, 6133, 6132, 6131, 6130, 6129, 6128, 6127, 6126, 6125, 6124, 6123, 6122, 6121, 6120, 6119, 6118, 6117, 6116, 6115, 6114, 6112]
samples = [x_6170, x_6169, x_6168, x_6167, x_6166, x_6165, x_6164, x_6163, x_6162, x_6161, x_6160, x_6159, x_6158, x_6157, x_6156, x_6155, x_6154, x_6153, x_6152, x_6151, x_6150, x_6149, x_6148, x_6147, x_6146, x_6145, x_6144, x_6143, x_6142, x_6141, x_6140, x_6139, x_6138, x_6137, x_6136, x_6135, x_6134, x_6133, x_6132, x_6131, x_6130, x_6129, x_6128, x_6127, x_6126, x_6125, x_6124, x_6123, x_6122, x_6121, x_6120, x_6119, x_6118, x_6117, x_6116, x_6115, x_6114, x_6112]

xs, ys = [], []
for level, row in zip(levels, samples):
    xs.extend(max(v, 0) for v in row)
    ys.extend([level] * len(row))

fig, ax = plt.subplots(figsize=(10, 10), dpi=100)
ax.plot(xs, ys, "k.", label="Samples\n$\\mu$ = 6141.09, $\\sigma$ = 8.05")
ax.set_xlim(-492, 10342)
ax.set_ylim(6109.1, 6172.9)
ax.set_title("Run 667, channel028, Pedestal")
ax.set_xlabel("Sample #")
ax.set_ylabel("ADC Counts")
ax.grid(True)
ax.legend(loc="upper right")
fig.subplots_adjust(left=0.081, right=0.985, top=0.965, bottom=0.058)
fig.savefig("out.png", dpi=100)
